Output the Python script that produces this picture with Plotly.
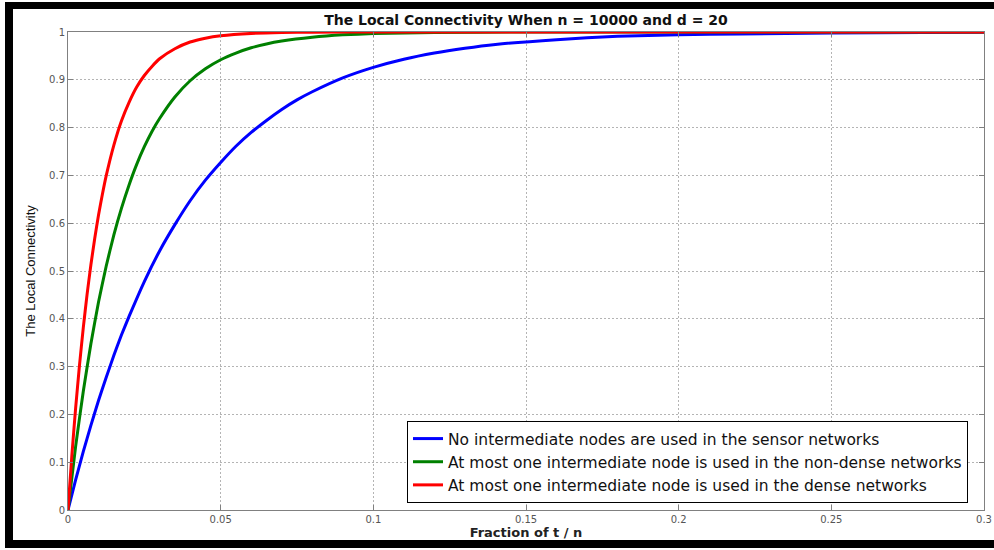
import plotly.graph_objects as go

# Values
x_blue = [0, 0.0025, 0.005, 0.0075, 0.01, 0.0125, 0.015, 0.0175, 0.02, 0.025, 0.03, 0.035, 0.04,
          0.045, 0.05, 0.055, 0.06, 0.065, 0.07, 0.075, 0.08, 0.09, 0.1, 0.11, 0.12, 0.13, 0.14,
          0.16, 0.18, 0.2, 0.22, 0.25, 0.28, 0.3]
y_blue = [0, 0.063, 0.122, 0.177, 0.229, 0.277, 0.323, 0.366, 0.405, 0.478, 0.542, 0.597, 0.647,
          0.690, 0.727, 0.761, 0.790, 0.815, 0.838, 0.858, 0.875, 0.904, 0.926, 0.943, 0.956,
          0.966, 0.974, 0.984, 0.991, 0.994, 0.996, 0.998, 0.999, 0.9996]

x_green = [0, 0.0025, 0.005, 0.0075, 0.01, 0.0125, 0.015, 0.0175, 0.02, 0.0225, 0.025, 0.0275,
           0.03, 0.035, 0.04, 0.045, 0.05, 0.055, 0.06, 0.065, 0.07, 0.08, 0.09, 0.1, 0.12, 0.15,
           0.2, 0.3]
y_green = [0, 0.133, 0.248, 0.348, 0.435, 0.51, 0.575, 0.631, 0.68, 0.723, 0.76, 0.792,
           0.819, 0.864, 0.898, 0.923, 0.942, 0.956, 0.967, 0.975, 0.981, 0.989, 0.994, 0.9967,
           0.999, 1.0, 1.0, 1.0]

x_red = [0, 0.00125, 0.0025, 0.00375, 0.005, 0.00625, 0.0075, 0.00875, 0.01, 0.01125, 0.0125,
         0.015, 0.0175, 0.02, 0.0225, 0.025, 0.0275, 0.03, 0.035, 0.04, 0.045, 0.05, 0.06, 0.07,
         0.08, 0.1, 0.2, 0.3]
y_red = [0, 0.113, 0.213, 0.302, 0.381, 0.451, 0.513, 0.568, 0.617, 0.660, 0.699,
         0.763, 0.814, 0.853, 0.885, 0.909, 0.928, 0.944, 0.965, 0.979, 0.987, 0.992, 0.997, 0.999,
         0.9995, 1.0, 1.0, 1.0]

names = ["No intermediate nodes are used in the sensor networks",
         "At most one intermediate node is used in the non-dense networks",
         "At most one intermediate node is used in the dense networks"]
colors = ["#0000ff", "#008000", "#ff0000"]

x_ticks = [0, 0.05, 0.1, 0.15, 0.2, 0.25, 0.3]
x_ticklabels = ["0", "0.05", "0.1", "0.15", "0.2", "0.25", "0.3"]
y_ticks = [0, 0.1, 0.2, 0.3, 0.4, 0.5, 0.6, 0.7, 0.8, 0.9, 1]
y_ticklabels = ["0", "0.1", "0.2", "0.3", "0.4", "0.5", "0.6", "0.7", "0.8", "0.9", "1"]

fig = go.Figure()
for xs, ys, nm, c in [(x_blue, y_blue, names[0], colors[0]),
                      (x_green, y_green, names[1], colors[1]),
                      (x_red, y_red, names[2], colors[2])]:
    fig.add_trace(go.Scatter(x=xs, y=ys, name=nm, mode="lines",
                             line=dict(color=c, width=3, shape="spline", smoothing=0.5)))

W, H = 994, 550
L, R, T, B = 68, 10, 32, 40
pw, ph = W - L - R, H - T - B


def px2x(px):
    return (px - L) / pw


def py2y(py):
    return (H - B - py) / ph


shapes = [
    dict(type="rect", xref="paper", yref="paper", x0=px2x(5), x1=px2x(13), y0=py2y(548), y1=py2y(2),
         fillcolor="black", line_width=0, layer="above"),
    dict(type="rect", xref="paper", yref="paper", x0=px2x(5), x1=px2x(994), y0=py2y(9), y1=py2y(2),
         fillcolor="black", line_width=0, layer="above"),
    dict(type="rect", xref="paper", yref="paper", x0=px2x(5), x1=px2x(994), y0=py2y(548), y1=py2y(540),
         fillcolor="black", line_width=0, layer="above"),
]

tickfont = dict(family="DejaVu Sans", size=10, color="#555555")
axis_common = dict(showline=True, linecolor="#808080", linewidth=1, mirror="ticks",
                   ticks="inside", ticklen=5, tickcolor="#808080",
                   showgrid=True, gridcolor="#b4b4b4", griddash="2px,2px", gridwidth=1,
                   zeroline=False, tickfont=tickfont)

fig.update_layout(
    width=W, height=H,
    margin=dict(l=L, r=R, t=T, b=B, autoexpand=False),
    paper_bgcolor="white", plot_bgcolor="white",
    title=dict(text="<b>The Local Connectivity When n = 10000 and d = 20</b>",
               x=0.5, xref="paper", xanchor="center", y=1 - 20 / H, yanchor="middle",
               font=dict(family="DejaVu Sans", size=14, color="#111111")),
    xaxis=dict(range=[0, 0.3], tickvals=x_ticks, ticktext=x_ticklabels,
               title=dict(text="<b>Fraction of t / n</b>", standoff=2,
                          font=dict(family="DejaVu Sans", size=13, color="#222222")),
               automargin=False, **axis_common),
    yaxis=dict(range=[0, 1], tickvals=y_ticks, ticktext=y_ticklabels,
               title=dict(text="The Local Connectivity", standoff=10,
                          font=dict(family="Liberation Sans, Arial", size=13, color="#111111")),
               automargin=False, **axis_common),
    legend=dict(x=px2x(407), y=py2y(462), xanchor="left", yanchor="middle",
                bgcolor="white", bordercolor="black", borderwidth=1,
                font=dict(family="DejaVu Sans", size=15.5, color="#111111"),
                tracegroupgap=0, itemwidth=30),
    shapes=shapes,
    showlegend=True,
)

fig.write_html("out.html", config={"displayModeBar": False},
               post_script="document.body.style.margin='0';document.body.style.overflow='hidden';")
